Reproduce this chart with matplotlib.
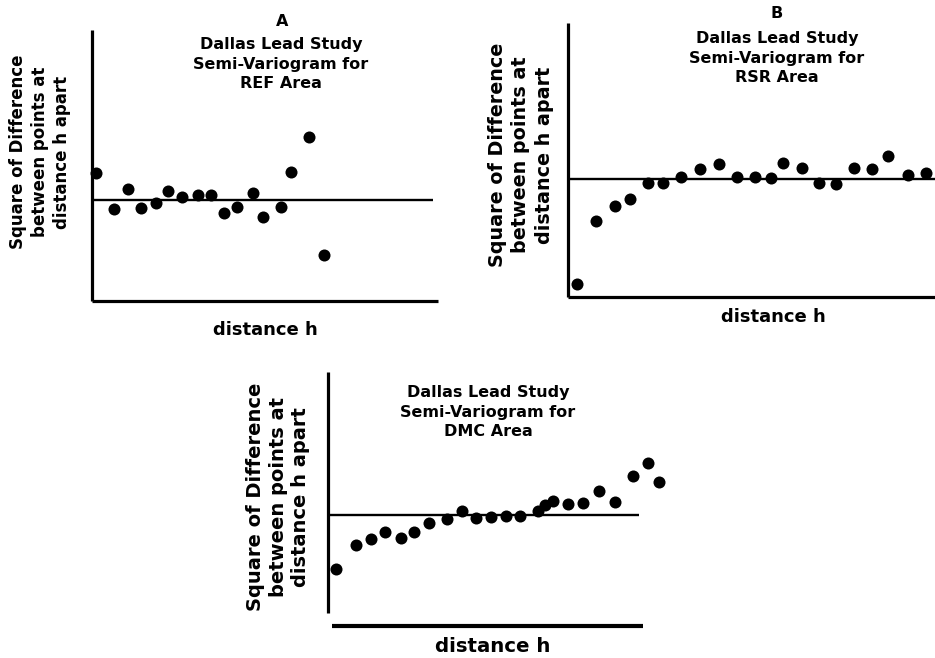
import matplotlib
matplotlib.use("Agg")
import matplotlib.pyplot as plt

# figure size in pixels
W, H = 935, 658

# ---- data (arbitrary units: lag distance h, semi-variance) ----
# A - REF area
ref_h = [4, 22, 36, 49, 64, 76, 90, 106, 119, 132, 145, 161, 171, 189, 199, 217, 232]
ref_gamma = [128, 92, 112, 93, 98, 110, 104, 106, 106, 88, 94, 108, 84, 94, 129, 164, 46]
ref_sill = 101
ref_sill_range = [0, 341]

# B - RSR area
rsr_h = [9, 28, 47, 62, 80, 95, 113, 132, 151, 169, 187, 203, 215, 234, 251, 268,
         286, 304, 320, 340, 358]
rsr_gamma = [13, 76, 91, 98, 114, 114, 120, 128, 133, 120, 120, 119, 134, 129, 114, 113,
             129, 128, 141, 122, 124]
rsr_sill = 118
rsr_sill_range = [0, 380]

# C - DMC area
dmc_h = [8, 28, 43, 57, 73, 86, 101, 119, 134, 148, 163, 178, 192, 210, 217, 225,
         240, 255, 271, 287, 305, 320, 331]
dmc_gamma = [44, 68, 74, 81, 75, 81, 90, 94, 102, 95, 96, 97, 97, 102, 108, 112,
             109, 110, 122, 111, 137, 150, 131]
dmc_sill = 98
dmc_sill_range = [0, 311]

ylabel_text = "Square of Difference\nbetween points at\ndistance h apart"

plt.rcParams['font.family'] = ['DejaVu Sans']
fig = plt.figure(figsize=(W / 100, H / 100), dpi=100)
fig.patch.set_facecolor("white")


def add_px_axes(left, right, top, bottom):
    # place an axes using pixel edges of the picture
    ax = fig.add_axes([left / W, 1 - bottom / H, (right - left) / W, (bottom - top) / H])
    ax.set_xlim(0, right - left)
    ax.set_ylim(0, bottom - top)
    for side in ["top", "right"]:
        ax.spines[side].set_visible(False)
    for side in ["left", "bottom"]:
        ax.spines[side].set_linewidth(2.3)
        ax.spines[side].set_capstyle("butt")
    ax.set_xticks([])
    ax.set_yticks([])
    ax.patch.set_alpha(0)
    return ax


def px(x, y):
    return x / W, 1 - y / H


def draw_panel(ax, h, gamma, sill, sill_range):
    ax.hlines(sill, sill_range[0], sill_range[1], color="black", linewidth=1.7, zorder=2)
    ax.scatter(h, gamma, s=75, color="black", zorder=3, clip_on=False, linewidths=0)


# Panel A
axA = add_px_axes(92, 438, 30, 301)
draw_panel(axA, ref_h, ref_gamma, ref_sill, ref_sill_range)
fig.text(*px(282, 22), "A", ha="center", va="center", fontsize=11.5, fontweight="bold")
fig.text(*px(281, 64), "Dallas Lead Study\nSemi-Variogram for\nREF Area", ha="center",
         va="center", fontsize=11.5, fontweight="bold", linespacing=1.35)
fig.text(*px(40, 152), ylabel_text, rotation=90, ha="center", va="center",
         multialignment="center", fontsize=12, fontweight="bold", linespacing=1.32)
fig.text(*px(265, 330), "distance h", ha="center", va="center", fontsize=13, fontweight="bold")

# Panel B (runs off the right edge of the page)
axB = add_px_axes(568, 950, 23, 297)
draw_panel(axB, rsr_h, rsr_gamma, rsr_sill, rsr_sill_range)
fig.text(*px(777, 13), "B", ha="center", va="center", fontsize=11.5, fontweight="bold")
fig.text(*px(777, 58), "Dallas Lead Study\nSemi-Variogram for\nRSR Area", ha="center",
         va="center", fontsize=11.5, fontweight="bold", linespacing=1.35)
fig.text(*px(521, 155), ylabel_text, rotation=90, ha="center", va="center",
         multialignment="center", fontsize=13.8, fontweight="bold", linespacing=1.28)
fig.text(*px(773, 317), "distance h", ha="center", va="center", fontsize=13, fontweight="bold")

# Panel C (x axis line sits a bit below the y axis)
axC = add_px_axes(328, 643, 372, 613)
axC.spines["bottom"].set_position(("outward", 13 * 0.72))
axC.spines["bottom"].set_bounds(4, 315)
axC.spines["bottom"].set_linewidth(3)
draw_panel(axC, dmc_h, dmc_gamma, dmc_sill, dmc_sill_range)
fig.text(*px(488, 412), "Dallas Lead Study\nSemi-Variogram for\nDMC Area", ha="center",
         va="center", fontsize=11.5, fontweight="bold", linespacing=1.35)
fig.text(*px(278, 497), ylabel_text, rotation=90, ha="center", va="center",
         multialignment="center", fontsize=14, fontweight="bold", linespacing=1.25)
fig.text(*px(493, 647), "distance h", ha="center", va="center", fontsize=14.2, fontweight="bold")

fig.savefig("out.png", dpi=100, facecolor="white")
